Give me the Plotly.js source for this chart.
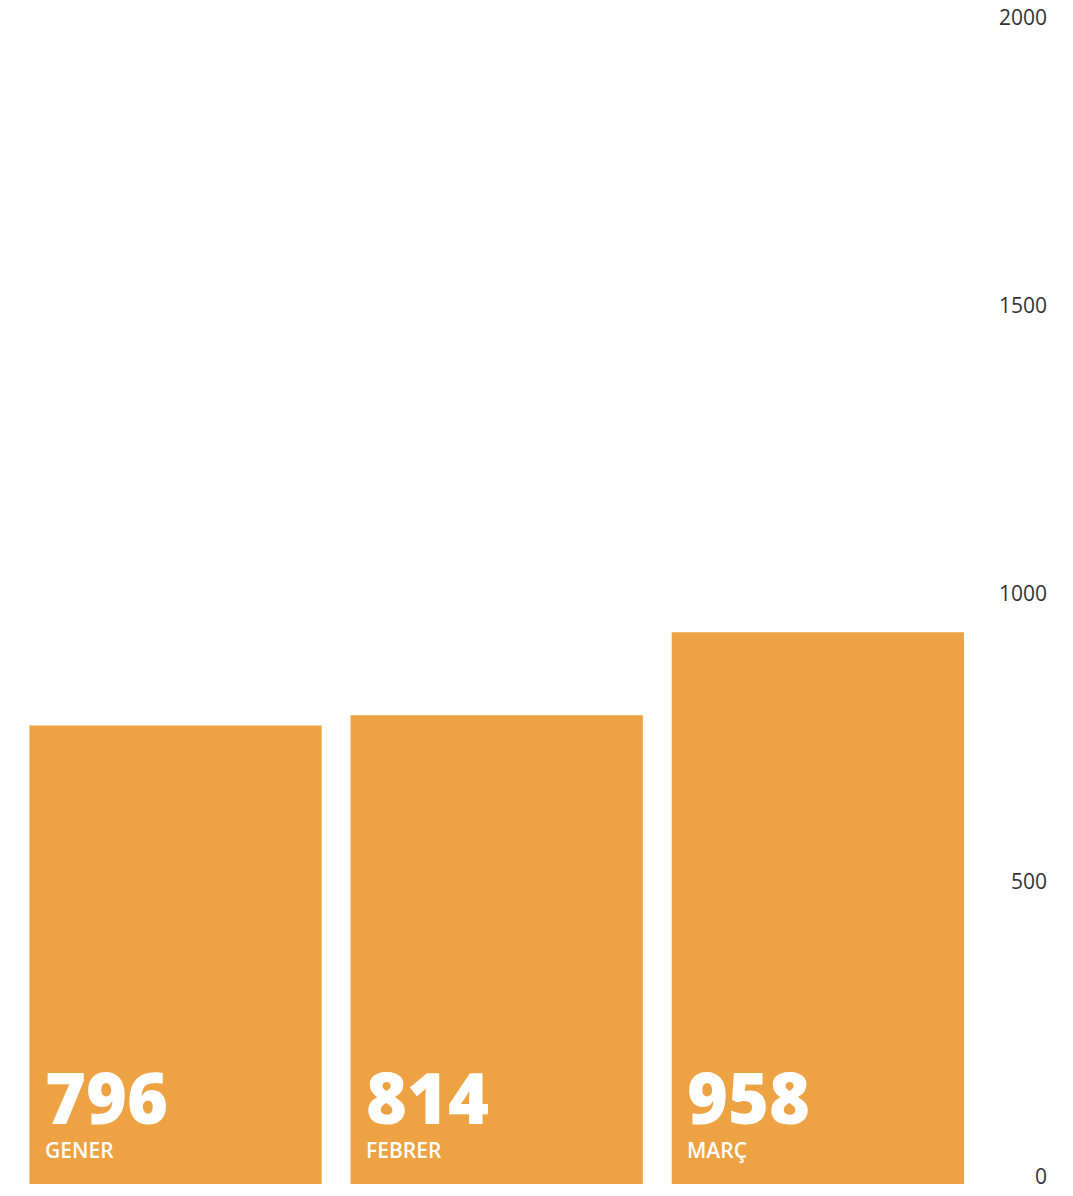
<!DOCTYPE html>
<html>
<head>
<meta charset="utf-8">
<script src="https://cdn.plot.ly/plotly-3.0.1.min.js"></script>
<style>html,body{margin:0;padding:0;background:#fff;}#chart{width:1073px;height:1196px;}</style>
</head>
<body>
<div id="chart"></div>
<script>
const categories = ["GENER", "FEBRER", "MARÇ"];
const values = [796, 814, 958];
const tickValues = [0, 500, 1000, 1500, 2000];
const tickLabels = ["0", "500", "1000", "1500", "2000"];

const barColor = "#eda243";
const xIdx = categories.map((c, i) => i);
const yRange = [-20.8, 2055.6];

const annotations = categories.map((c, i) => ({
  x: i, y: 0, xref: "x", yref: "y",
  xanchor: "left", yanchor: "middle",
  xshift: -133, yshift: 78,
  align: "left",
  text: '<span style="font-size:70px;font-weight:800">' + values[i] + '</span><br><span style="font-size:21px;font-weight:600">' + c + '</span>',
  showarrow: false,
  font: {family: "Open Sans", size: 26, color: "#ffffff", weight: 600}
}));

const data = [{
  type: "bar",
  x: xIdx,
  y: values,
  marker: {color: barColor},
  hoverinfo: "skip"
}, {
  type: "scatter", x: [], y: [], yaxis: "y2", hoverinfo: "skip", showlegend: false
}];

const tickStyle = {family: "Open Sans", size: 21, color: "#333333"};

const layout = {
  width: 1073, height: 1196,
  margin: {l: 15, r: 23, t: 0, b: 0},
  paper_bgcolor: "#ffffff", plot_bgcolor: "#ffffff",
  bargap: 0.09,
  showlegend: false,
  font: {family: "Open Sans", color: "#333333"},
  xaxis: {
    range: [-0.5, 2.723],
    showticklabels: false, showgrid: false, zeroline: false, showline: false, ticks: ""
  },
  yaxis: {
    range: yRange, side: "right",
    tickmode: "array", tickvals: tickValues.slice(1), ticktext: tickLabels.slice(1),
    ticklabelposition: "inside", ticklabelshift: -14,
    tickfont: tickStyle,
    showgrid: false, zeroline: false, showline: false, ticks: ""
  },
  yaxis2: {
    overlaying: "y", range: yRange, side: "right",
    tickmode: "array", tickvals: tickValues.slice(0, 1), ticktext: tickLabels.slice(0, 1),
    ticklabelposition: "inside", ticklabelshift: -7,
    tickfont: tickStyle,
    showgrid: false, zeroline: false, showline: false, ticks: ""
  },
  annotations: annotations
};

Plotly.newPlot("chart", data, layout, {displayModeBar: false, staticPlot: true});
</script>
</body>
</html>
